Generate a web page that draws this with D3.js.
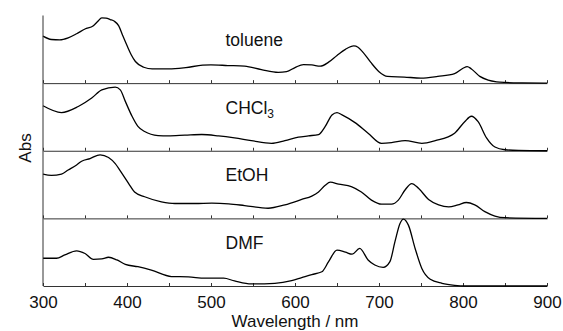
<!DOCTYPE html>
<html>
<head>
<meta charset="utf-8">
<script src="https://cdn.jsdelivr.net/npm/d3@7"></script>
<style>
  body { margin: 0; background: #fff; }
  svg text { font-family: "Liberation Sans", Arial, sans-serif; fill: #111; }
</style>
</head>
<body>
<div id="chart"></div>
<script>
// spectra, absorbance normalised to panel height
const solvents = ["toluene", "CHCl3", "EtOH", "DMF"];

const tolueneNm  = [300,310,320,330,340,350,360,365,370,375,380,385,390,395,400,405,410,420,430,450,470,490,500,520,540,560,580,590,600,610,620,630,640,650,660,670,675,680,690,700,710,730,750,770,790,800,805,810,820,830,840,850,870,900];
const tolueneAbs = [0.695,0.645,0.64,0.67,0.73,0.80,0.85,0.91,0.965,0.96,0.94,0.915,0.85,0.70,0.555,0.42,0.32,0.235,0.21,0.21,0.23,0.265,0.27,0.26,0.25,0.20,0.16,0.17,0.23,0.275,0.27,0.25,0.31,0.41,0.50,0.55,0.53,0.47,0.31,0.17,0.10,0.09,0.075,0.10,0.14,0.22,0.245,0.21,0.10,0.045,0.02,0.01,0.003,0];

const chcl3Nm  = [300,322,342,358,370,386,392,398,406,413,421,437,449,469,489,509,528,548,572,588,604,616,628,636,644,650,656,671,687,703,715,731,751,767,790,802,810,818,828,838,850,866,900];
const chcl3Abs = [0.665,0.565,0.655,0.78,0.90,0.94,0.90,0.73,0.51,0.36,0.285,0.225,0.22,0.23,0.24,0.22,0.19,0.15,0.11,0.15,0.20,0.22,0.24,0.36,0.53,0.565,0.53,0.42,0.26,0.11,0.12,0.15,0.11,0.15,0.26,0.43,0.51,0.43,0.19,0.055,0.015,0.005,0];

const etohNm  = [300,310,322,330,340,346,356,368,378,386,394,402,409,421,441,457,481,501,521,540,568,588,608,620,628,636,642,652,667,679,691,703,715,723,731,739,747,759,771,783,794,804,814,826,838,850,900];
const etohAbs = [0.655,0.635,0.655,0.715,0.79,0.845,0.885,0.94,0.90,0.81,0.665,0.515,0.39,0.32,0.245,0.22,0.22,0.225,0.215,0.19,0.15,0.20,0.28,0.33,0.39,0.49,0.535,0.505,0.47,0.39,0.27,0.21,0.21,0.27,0.42,0.515,0.445,0.28,0.20,0.17,0.20,0.235,0.20,0.10,0.035,0.01,0];

const dmfNm  = [300,316,326,340,350,360,370,378,388,398,413,429,453,473,493,515,528,548,576,596,608,620,632,640,650,660,668,677,687,695,705,713,719,725,729,735,743,751,761,775,790,802,900];
const dmfAbs = [0.41,0.41,0.46,0.52,0.48,0.395,0.40,0.425,0.385,0.32,0.285,0.235,0.14,0.135,0.115,0.115,0.075,0.03,0.04,0.08,0.125,0.17,0.21,0.36,0.53,0.50,0.47,0.555,0.385,0.31,0.275,0.36,0.655,0.925,0.99,0.90,0.555,0.26,0.10,0.04,0.01,0,0];

const xTicks = [300,350,400,450,500,550,600,650,700,750,800,850,900];

const spectra = [
  { name: "toluene", nm: tolueneNm, abs: tolueneAbs },
  { name: "CHCl3",   nm: chcl3Nm,   abs: chcl3Abs },
  { name: "EtOH",    nm: etohNm,    abs: etohAbs },
  { name: "DMF",     nm: dmfNm,     abs: dmfAbs }
];

const width = 563, height = 331;
const margin = { top: 15.5, right: 16, bottom: 45, left: 43 };

const svg = d3.select("#chart").append("svg")
  .attr("width", width)
  .attr("height", height);

const x = d3.scaleLinear()
  .domain([300, 900])
  .range([margin.left, width - margin.right]);

const band = d3.scaleBand()
  .domain(solvents)
  .range([margin.top, height - margin.bottom]);

const line = d3.line()
  .curve(d3.curveMonotoneX);

spectra.forEach((s, i) => {
  const top = band(s.name);
  const base = top + band.bandwidth();
  const y = d3.scaleLinear().domain([0, 1]).range([base, top]);
  const last = i === spectra.length - 1;

  const axis = d3.axisBottom(x)
    .tickValues(xTicks)
    .tickSizeInner(-3)
    .tickSizeOuter(0)
    .tickPadding(10)
    .tickFormat(d => (last && d % 100 === 0) ? d : "");

  const g = svg.append("g")
    .attr("transform", `translate(0,${base})`)
    .call(axis);
  g.select(".domain").attr("stroke", "#333");
  g.selectAll(".tick line").attr("stroke", "#333");
  g.selectAll(".tick text")
    .style("font-size", "17px")
    .attr("fill", "#111");

  svg.append("path")
    .datum(s.nm.map((n, k) => [x(n), y(s.abs[k])]))
    .attr("fill", "none")
    .attr("stroke", "#000")
    .attr("stroke-width", 1.3)
    .attr("stroke-linejoin", "round")
    .attr("d", line);

  const label = svg.append("text")
    .attr("x", 225.5)
    .attr("y", top + 30.5)
    .style("font-size", "17.5px");
  if (s.name === "CHCl3") {
    label.append("tspan").text("CHCl");
    label.append("tspan").attr("dy", 4).style("font-size", "12px").text("3");
  } else {
    label.text(s.name);
  }
});

// left axis line
svg.append("line")
  .attr("x1", margin.left).attr("x2", margin.left)
  .attr("y1", margin.top).attr("y2", height - margin.bottom)
  .attr("stroke", "#333");

svg.append("text")
  .attr("x", (x.range()[0] + x.range()[1]) / 2)
  .attr("y", 327)
  .attr("text-anchor", "middle")
  .style("font-size", "17px")
  .text("Wavelength / nm");

svg.append("text")
  .attr("transform", `translate(31,148) rotate(-90)`)
  .attr("text-anchor", "middle")
  .style("font-size", "17px")
  .text("Abs");
</script>
</body>
</html>
